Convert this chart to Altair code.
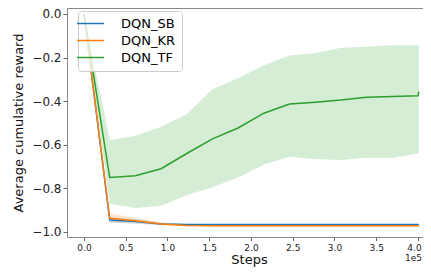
import altair as alt
import pandas as pd

steps = [0.0, 0.308, 0.615, 0.923, 1.231, 1.538, 1.846, 2.154, 2.462, 2.769, 3.077, 3.385, 3.692, 4.0, 4.01]

series_names = ["DQN_SB", "DQN_KR", "DQN_TF"]
series_colors = ["#1f77b4", "#ff7f0e", "#2ca02c"]

sb_mean = [0.0, -0.945, -0.952, -0.963, -0.966, -0.966, -0.966, -0.966, -0.966, -0.966, -0.966, -0.966, -0.966, -0.966, -0.966]
sb_lo = [0.0, -0.958, -0.962, -0.969, -0.969, -0.969, -0.969, -0.969, -0.969, -0.969, -0.969, -0.969, -0.969, -0.969, -0.969]
sb_hi = [0.0, -0.932, -0.942, -0.957, -0.963, -0.963, -0.963, -0.963, -0.963, -0.963, -0.963, -0.963, -0.963, -0.963, -0.963]

kr_mean = [0.0, -0.937, -0.948, -0.963, -0.970, -0.971, -0.971, -0.971, -0.971, -0.971, -0.971, -0.971, -0.971, -0.971, -0.971]
kr_lo = [0.0, -0.955, -0.958, -0.968, -0.973, -0.974, -0.974, -0.974, -0.974, -0.974, -0.974, -0.974, -0.974, -0.974, -0.974]
kr_hi = [0.0, -0.915, -0.935, -0.957, -0.967, -0.968, -0.968, -0.968, -0.968, -0.968, -0.968, -0.968, -0.968, -0.968, -0.968]

tf_mean = [0.0, -0.750, -0.742, -0.710, -0.640, -0.573, -0.523, -0.455, -0.413, -0.405, -0.395, -0.382, -0.379, -0.375, -0.356]
tf_lo = [0.0, -0.870, -0.890, -0.880, -0.830, -0.795, -0.750, -0.690, -0.655, -0.665, -0.670, -0.660, -0.660, -0.640, -0.640]
tf_hi = [0.0, -0.578, -0.560, -0.517, -0.460, -0.345, -0.295, -0.235, -0.190, -0.180, -0.155, -0.150, -0.143, -0.143, -0.143]

x_ticks = [0.0, 0.5, 1.0, 1.5, 2.0, 2.5, 3.0, 3.5, 4.0]
y_ticks = [-1.0, -0.8, -0.6, -0.4, -0.2, 0.0]
offset_text = ["1e5"]

rows = []
for name, m, lo, hi in zip(series_names, [sb_mean, kr_mean, tf_mean], [sb_lo, kr_lo, tf_lo], [sb_hi, kr_hi, tf_hi]):
    for s, a, b, c in zip(steps, m, lo, hi):
        rows.append({"series": name, "step": s, "mean": a, "lo": b, "hi": c})
df = pd.DataFrame(rows)

color_scale = alt.Scale(domain=series_names, range=series_colors)
legend = alt.Legend(title=None, orient="none", legendX=11, legendY=3,
                    symbolType="M-3,0H3", symbolSize=81, symbolStrokeWidth=1.5,
                    symbolOpacity=1, symbolFillColor="transparent",
                    labelFontSize=13, labelColor="#000", labelOffset=24,
                    padding=6, rowPadding=3, strokeColor="#cccccc",
                    cornerRadius=3, fillColor="rgba(255,255,255,0.8)")
x_enc = alt.X("step:Q", scale=alt.Scale(domain=[-0.2036, 4.156], nice=False, zero=False),
              axis=alt.Axis(values=x_ticks, format=".1f", title="Steps", labelFontSize=9,
                            labelPadding=3, tickSize=3.5, titlePadding=1,
                            labelOffset={"expr": "datum.value >= 4 ? -4 : 0"}))

base = alt.Chart(df)
band = base.mark_area(opacity=0.2, strokeWidth=0).encode(
    x=x_enc,
    y=alt.Y("lo:Q", scale=alt.Scale(domain=[-1.023, 0.0275], nice=False, zero=False),
            axis=alt.Axis(values=y_ticks, format=".1f", labelExpr="replace(datum.label, '-', '−')",
                          title="Average cumulative reward", labelFontSize=12, labelPadding=2,
                          tickSize=4, titlePadding=6)),
    y2="hi:Q",
    color=alt.Color("series:N", scale=color_scale, sort=series_names, legend=legend),
)
line = base.mark_line(strokeWidth=1.5).encode(
    x="step:Q",
    y="mean:Q",
    color=alt.Color("series:N", scale=color_scale, sort=series_names, legend=legend),
)
txt = alt.Chart(pd.DataFrame({"t": offset_text})).mark_text(
    align="right", baseline="middle", fontSize=9, color="#222").encode(
    text="t:N", x=alt.value(355), y=alt.value(250))

chart = alt.layer(band, line, txt).properties(
    width=364, height=229,
    autosize=alt.AutoSizeParams(type="none"),
    padding={"left": 59, "top": 0, "right": -8, "bottom": 40},
).configure(font="DejaVu Sans").configure_view(stroke="#888888", strokeWidth=1).configure_axis(
    grid=False, domain=False, tickColor="#666666", labelColor="#222222", titleColor="#111111",
    titleFontSize=13, titleFontWeight="normal", labelFont="DejaVu Sans", titleFont="DejaVu Sans")

chart.save("out.html", embed_options={"renderer": "svg", "actions": False})
